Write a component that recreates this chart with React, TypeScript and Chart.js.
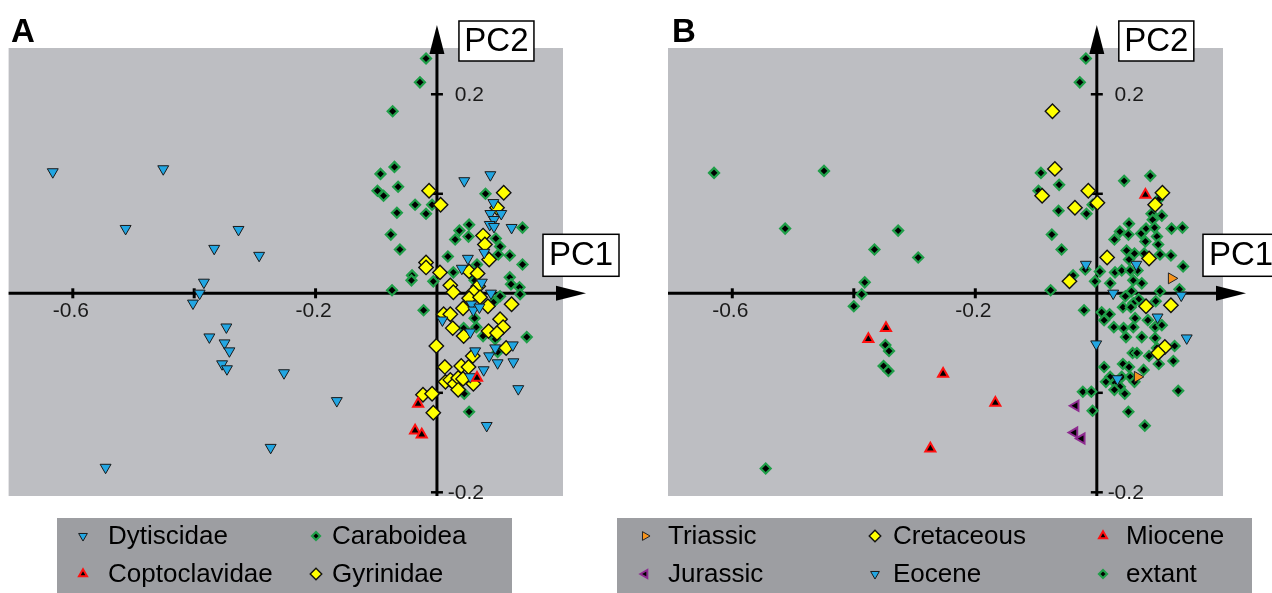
import React, { useEffect, useRef } from 'react';
import { Chart, registerables } from 'chart.js';
import { drawPoint } from 'chart.js/helpers';

Chart.register(...registerables);

type P = [number, number];

// ---------- Panel A data (PC1, PC2) ----------
const dytiscidae: P[] = [
  [-0.633, 0.122], [-0.451, 0.125], [-0.513, 0.065], [-0.327, 0.064], [-0.367, 0.045],
  [-0.293, 0.038], [-0.384, 0.011], [-0.391, 0.0], [-0.402, -0.01], [-0.347, -0.034],
  [-0.375, -0.044], [-0.35, -0.05], [-0.342, -0.058], [-0.354, -0.071], [-0.346, -0.076],
  [-0.252, -0.08], [-0.165, -0.108], [-0.274, -0.155], [-0.546, -0.175],
  [0.045, 0.113], [0.088, 0.119], [0.093, 0.091], [0.088, 0.08], [0.106, 0.08],
  [0.094, 0.074], [0.087, 0.069], [0.094, 0.067], [0.123, 0.066], [0.051, 0.035],
  [0.078, 0.041], [0.041, 0.025], [0.074, 0.011], [0.089, 0.0], [0.057, -0.011],
  [0.06, -0.017], [0.07, -0.014], [0.009, -0.027], [0.055, -0.039], [0.125, -0.052],
  [0.096, -0.055], [0.063, -0.058], [0.086, -0.063], [0.1, -0.07], [0.126, -0.069],
  [0.077, -0.077], [0.055, -0.084], [0.134, -0.096], [0.082, -0.133],
];
const coptoclavidae: P[] = [
  [0.066, -0.085], [-0.031, -0.111], [-0.036, -0.138], [-0.025, -0.142],
];
const caraboidea: P[] = [
  [-0.018, 0.236], [-0.028, 0.212], [-0.073, 0.183], [-0.07, 0.127], [-0.093, 0.12],
  [-0.064, 0.107], [-0.098, 0.103], [-0.088, 0.098], [-0.036, 0.089], [-0.008, 0.089],
  [-0.066, 0.081], [-0.018, 0.08], [-0.076, 0.059], [0.08, 0.1], [0.141, 0.066],
  [0.053, 0.069], [0.037, 0.063], [0.052, 0.057], [0.03, 0.054], [0.097, 0.055],
  [-0.061, 0.044], [0.018, 0.037], [0.104, 0.047], [0.101, 0.039], [0.12, 0.038],
  [0.141, 0.029], [0.066, 0.029], [-0.041, 0.018], [-0.042, 0.013], [-0.006, 0.012],
  [0.027, 0.021], [0.12, 0.016], [0.122, 0.009], [0.136, 0.006], [0.137, -0.001],
  [-0.074, 0.003], [0.062, 0.013], [0.104, -0.003], [0.093, -0.009], [-0.022, -0.017],
  [0.062, -0.025], [0.065, -0.034], [0.099, -0.039], [0.076, -0.043], [0.096, -0.046],
  [0.148, -0.044], [0.044, -0.035], [0.1, -0.059], [0.045, -0.101], [0.053, -0.119],
];
const gyrinidae: P[] = [
  [-0.013, 0.103], [0.006, 0.089], [0.11, 0.101], [0.099, 0.086], [0.076, 0.058],
  [0.079, 0.049], [0.086, 0.034], [-0.018, 0.031], [-0.018, 0.026], [0.005, 0.021],
  [0.053, 0.022], [0.067, 0.02], [0.022, 0.008], [0.027, 0.001], [0.068, 0.007],
  [0.06, 0.001], [0.053, -0.005], [0.071, -0.004], [0.123, -0.011], [0.084, -0.013],
  [0.043, -0.015], [0.011, -0.021], [0.022, -0.021], [0.104, -0.026], [0.109, -0.034],
  [0.085, -0.038], [0.099, -0.04], [0.026, -0.035], [0.044, -0.043], [-0.001, -0.053],
  [0.114, -0.055], [0.059, -0.063], [0.013, -0.074], [0.04, -0.073], [0.052, -0.074],
  [0.014, -0.089], [0.022, -0.087], [0.029, -0.091], [0.035, -0.085], [0.043, -0.086],
  [0.035, -0.097], [0.06, -0.091], [-0.023, -0.102], [-0.008, -0.101], [-0.006, -0.12],
];

// ---------- Panel B data (PC1, PC2) ----------
const triassic: P[] = [[0.123, 0.015], [0.067, -0.084]];
const jurassic: P[] = [[-0.035, -0.113], [-0.037, -0.14], [-0.025, -0.146]];
const cretaceous: P[] = [
  [-0.069, 0.125], [-0.09, 0.098], [-0.014, 0.103], [-0.036, 0.086], [0.001, 0.091],
  [-0.045, 0.012], [-0.073, 0.183], [0.108, 0.101], [0.096, 0.089], [0.017, 0.036],
  [0.086, 0.035], [0.081, -0.013], [0.122, -0.012], [0.112, -0.054], [0.101, -0.06],
];
const eocene: P[] = [
  [-0.018, 0.029], [-0.001, -0.051], [0.065, 0.029], [0.027, 0.0], [0.139, -0.002],
  [0.1, -0.024], [0.148, -0.045], [0.034, -0.086],
];
const miocene: P[] = [
  [-0.347, -0.035], [-0.376, -0.046], [-0.253, -0.081], [-0.167, -0.11], [-0.274, -0.156],
  [0.08, 0.099],
];
const extant: P[] = [
  [-0.63, 0.121], [-0.449, 0.123], [-0.513, 0.065], [-0.327, 0.063], [-0.366, 0.044],
  [-0.294, 0.036], [-0.382, 0.011], [-0.387, -0.001], [-0.4, -0.013], [-0.348, -0.052],
  [-0.342, -0.058], [-0.351, -0.073], [-0.343, -0.078], [-0.545, -0.176],
  [-0.092, 0.121], [-0.062, 0.109], [-0.096, 0.103], [-0.063, 0.083], [-0.017, 0.08],
  [-0.007, 0.089], [-0.074, 0.059], [-0.058, 0.044], [-0.039, 0.018], [-0.019, 0.024],
  [-0.003, 0.012], [-0.076, 0.003], [-0.021, -0.017], [-0.023, -0.099], [-0.009, -0.099],
  [-0.007, -0.118], [-0.018, 0.236], [-0.028, 0.212], [0.045, 0.113], [0.088, 0.118],
  [0.101, 0.094], [0.09, 0.08], [0.107, 0.078], [0.092, 0.074], [0.053, 0.07],
  [0.038, 0.062], [0.052, 0.059], [0.073, 0.06], [0.081, 0.065], [0.095, 0.066],
  [0.123, 0.065], [0.141, 0.066], [0.005, 0.022], [0.029, 0.054], [0.08, 0.052],
  [0.099, 0.057], [0.101, 0.049], [0.049, 0.043], [0.062, 0.04], [0.078, 0.04],
  [0.104, 0.039], [0.122, 0.038], [0.142, 0.027], [0.053, 0.034], [0.067, 0.023],
  [0.03, 0.021], [0.041, 0.023], [0.055, 0.023], [0.06, 0.013], [0.074, 0.01],
  [0.022, 0.01], [0.104, 0.002], [0.136, 0.004], [0.057, 0.002], [0.047, -0.003],
  [0.069, -0.006], [0.097, -0.008], [0.06, -0.01], [0.043, -0.014], [0.056, -0.014],
  [0.008, -0.019], [0.021, -0.021], [0.063, -0.025], [0.012, -0.027], [0.084, -0.027],
  [0.028, -0.034], [0.044, -0.035], [0.06, -0.034], [0.096, -0.034], [0.107, -0.032],
  [0.048, -0.044], [0.074, -0.044], [0.096, -0.045], [0.128, -0.053], [0.099, -0.055],
  [0.059, -0.06], [0.066, -0.06], [0.086, -0.063], [0.126, -0.068], [0.102, -0.071],
  [0.043, -0.071], [0.053, -0.074], [0.012, -0.074], [0.077, -0.077], [0.022, -0.084],
  [0.041, -0.084], [0.055, -0.084], [0.015, -0.089], [0.03, -0.09], [0.038, -0.094],
  [0.062, -0.089], [0.029, -0.097], [0.046, -0.101], [0.134, -0.098], [0.052, -0.119],
  [0.079, -0.133],
];

// ---------- axes ----------
const X_MIN = -0.7058;
const X_MAX = 0.2077;
const Y_MIN = -0.2037;
const Y_MAX = 0.2465;
const xTickValues = [-0.6, -0.4, -0.2];
const xTickLabels = ['-0.6', '', '-0.2'];
const yTickValues = [0.2, 0.1, -0.1, -0.2];
const yTickLabels = ['0.2', '', '', '-0.2'];
const axisTitleX = 'PC1';
const axisTitleY = 'PC2';

const FONT = "'Liberation Sans', Arial, Helvetica, sans-serif";
const PLOT_BG = '#bdbec2';
const LEGEND_BG = '#9d9ea2';

type Sty = {
  pointStyle: string; rotation: number; radius: number;
  fill: string; stroke: string; borderWidth: number;
};
const S: Record<string, Sty> = {
  blueDown: { pointStyle: 'triangle', rotation: 180, radius: 6.3, fill: '#22a6e2', stroke: '#1a1a1a', borderWidth: 1 },
  redUp: { pointStyle: 'triangle', rotation: 0, radius: 5.8, fill: '#000000', stroke: '#ff1010', borderWidth: 2 },
  greenDiamond: { pointStyle: 'rectRot', radius: 5, rotation: 0, fill: '#000000', stroke: '#1f9e48', borderWidth: 2.2 },
  yellowDiamond: { pointStyle: 'rectRot', radius: 7.2, rotation: 0, fill: '#ffff00', stroke: '#111111', borderWidth: 1.4 },
  orangeRight: { pointStyle: 'triangle', rotation: 90, radius: 6.3, fill: '#f7941d', stroke: '#222222', borderWidth: 1 },
  purpleLeft: { pointStyle: 'triangle', rotation: 270, radius: 5.8, fill: '#000000', stroke: '#8e2a90', borderWidth: 2 },
};

type Series = { label: string; data: P[]; style: Sty };
type LegendItem = { label: string; style: Sty; mx: number; tx: number; y: number };
type Panel = {
  left: number; width: number; padLeft: number; padRight: number;
  letter: string; letterX: number;
  series: Series[]; // first = topmost
  legendBox: [number, number, number, number];
  legend: LegendItem[];
};

const panels: Panel[] = [
  {
    left: 0, width: 640, padLeft: 8, padRight: 640 - 563,
    letter: 'A', letterX: 11,
    series: [
      { label: 'Coptoclavidae', data: coptoclavidae, style: S.redUp },
      { label: 'Dytiscidae', data: dytiscidae, style: S.blueDown },
      { label: 'Gyrinidae', data: gyrinidae, style: S.yellowDiamond },
      { label: 'Caraboidea', data: caraboidea, style: S.greenDiamond },
    ],
    legendBox: [57, 518, 512, 600],
    legend: [
      { label: 'Dytiscidae', style: S.blueDown, mx: 83, tx: 108, y: 536 },
      { label: 'Caraboidea', style: S.greenDiamond, mx: 316, tx: 332, y: 536 },
      { label: 'Coptoclavidae', style: S.redUp, mx: 83, tx: 108, y: 574 },
      { label: 'Gyrinidae', style: S.yellowDiamond, mx: 316, tx: 332, y: 574 },
    ],
  },
  {
    left: 612, width: 660, padLeft: 668 - 612, padRight: 1272 - 1223,
    letter: 'B', letterX: 672,
    series: [
      { label: 'Jurassic', data: jurassic, style: S.purpleLeft },
      { label: 'Miocene', data: miocene, style: S.redUp },
      { label: 'Triassic', data: triassic, style: S.orangeRight },
      { label: 'Eocene', data: eocene, style: S.blueDown },
      { label: 'Cretaceous', data: cretaceous, style: S.yellowDiamond },
      { label: 'extant', data: extant, style: S.greenDiamond },
    ],
    legendBox: [617, 518, 1252, 600],
    legend: [
      { label: 'Triassic', style: S.orangeRight, mx: 645, tx: 668, y: 536 },
      { label: 'Cretaceous', style: S.yellowDiamond, mx: 875, tx: 893, y: 536 },
      { label: 'Miocene', style: S.redUp, mx: 1103, tx: 1126, y: 536 },
      { label: 'Jurassic', style: S.purpleLeft, mx: 645, tx: 668, y: 574 },
      { label: 'Eocene', style: S.blueDown, mx: 875, tx: 893, y: 574 },
      { label: 'extant', style: S.greenDiamond, mx: 1103, tx: 1126, y: 574 },
    ],
  },
];

function marker(ctx: CanvasRenderingContext2D, st: Sty, x: number, y: number, scale = 1) {
  ctx.save();
  ctx.fillStyle = st.fill;
  ctx.strokeStyle = st.stroke;
  ctx.lineWidth = st.borderWidth;
  drawPoint(ctx, { pointStyle: st.pointStyle as any, rotation: st.rotation, radius: st.radius * scale, borderWidth: st.borderWidth }, x, y);
  ctx.restore();
}

function makePlugin(panel: Panel) {
  return {
    id: 'pcaOverlay',
    beforeDraw(chart: any) {
      const ctx: CanvasRenderingContext2D = chart.ctx;
      const a = chart.chartArea;
      ctx.save();
      ctx.fillStyle = PLOT_BG;
      ctx.fillRect(a.left, a.top, a.right - a.left, a.bottom - a.top);
      const [l, t, r, b] = panel.legendBox;
      ctx.fillStyle = LEGEND_BG;
      ctx.fillRect(l - panel.left, t, r - l, b - t);
      ctx.restore();
    },
    beforeDatasetsDraw(chart: any) {
      const ctx: CanvasRenderingContext2D = chart.ctx;
      const a = chart.chartArea;
      const xs = chart.scales.x;
      const ys = chart.scales.y;
      const x0 = xs.getPixelForValue(0);
      const y0 = ys.getPixelForValue(0);
      ctx.save();
      ctx.strokeStyle = '#000';
      ctx.fillStyle = '#000';
      ctx.lineWidth = 3;
      // horizontal axis
      const hTip = a.right + 23;
      ctx.beginPath();
      ctx.moveTo(a.left, y0);
      ctx.lineTo(a.right - 5, y0);
      ctx.stroke();
      ctx.beginPath();
      ctx.moveTo(hTip, y0);
      ctx.lineTo(a.right - 7, y0 - 7.5);
      ctx.lineTo(a.right - 7, y0 + 7.5);
      ctx.closePath();
      ctx.fill();
      // vertical axis
      const vTip = a.top - 23;
      ctx.beginPath();
      ctx.moveTo(x0, a.bottom);
      ctx.lineTo(x0, a.top + 5);
      ctx.stroke();
      ctx.beginPath();
      ctx.moveTo(x0, vTip);
      ctx.lineTo(x0 - 7.5, a.top + 6);
      ctx.lineTo(x0 + 7.5, a.top + 6);
      ctx.closePath();
      ctx.fill();
      // ticks
      ctx.lineWidth = 3;
      xTickValues.forEach((v) => {
        const px = xs.getPixelForValue(v);
        ctx.beginPath();
        ctx.moveTo(px, y0 - 5);
        ctx.lineTo(px, y0 + 5);
        ctx.stroke();
      });
      ctx.lineWidth = 2.5;
      yTickValues.forEach((v) => {
        const py = ys.getPixelForValue(v);
        ctx.beginPath();
        ctx.moveTo(x0 - 6, py);
        ctx.lineTo(x0 + 6, py);
        ctx.stroke();
      });
      ctx.restore();
    },
    afterDraw(chart: any) {
      const ctx: CanvasRenderingContext2D = chart.ctx;
      const a = chart.chartArea;
      const xs = chart.scales.x;
      const ys = chart.scales.y;
      const x0 = xs.getPixelForValue(0);
      const y0 = ys.getPixelForValue(0);
      ctx.save();
      // tick labels
      ctx.fillStyle = '#1a1a1a';
      ctx.font = `21px ${FONT}`;
      ctx.textBaseline = 'middle';
      ctx.textAlign = 'center';
      xTickValues.forEach((v, i) => {
        if (!xTickLabels[i]) return;
        ctx.fillText(xTickLabels[i], xs.getPixelForValue(v) - 2, y0 + 18);
      });
      ctx.textAlign = 'right';
      yTickValues.forEach((v, i) => {
        if (!yTickLabels[i]) return;
        ctx.fillText(yTickLabels[i], x0 + 47, ys.getPixelForValue(v) + 1);
      });
      // axis title boxes
      const box = (text: string, l: number, t: number, w: number, h: number) => {
        ctx.fillStyle = '#ffffff';
        ctx.fillRect(l, t, w, h);
        ctx.strokeStyle = '#000';
        ctx.lineWidth = 1.5;
        ctx.strokeRect(l, t, w, h);
        ctx.fillStyle = '#000';
        ctx.font = `33px ${FONT}`;
        ctx.textAlign = 'center';
        ctx.textBaseline = 'middle';
        ctx.fillText(text, l + w / 2, t + h / 2 + 1);
      };
      box(axisTitleY, x0 + 22, a.top - 27, 75, 40);
      box(axisTitleX, a.right - 20, y0 - 59, 76, 42);
      // panel letter
      ctx.fillStyle = '#000';
      ctx.font = `bold 33px ${FONT}`;
      ctx.textAlign = 'left';
      ctx.textBaseline = 'alphabetic';
      ctx.fillText(panel.letter, panel.letterX - panel.left, 42);
      // legend
      ctx.font = `26px ${FONT}`;
      ctx.textBaseline = 'middle';
      panel.legend.forEach((it) => {
        marker(ctx, it.style, it.mx - panel.left, it.y, 0.8);
        ctx.fillStyle = '#000';
        ctx.textAlign = 'left';
        ctx.fillText(it.label, it.tx - panel.left, it.y + 1);
      });
      ctx.restore();
    },
  };
}

function PanelChart({ panel }: { panel: Panel }) {
  const ref = useRef<HTMLCanvasElement>(null);
  useEffect(() => {
    if (!ref.current) return;
    const chart = new Chart(ref.current, {
      type: 'scatter',
      data: {
        datasets: panel.series.map((s) => ({
          label: s.label,
          data: s.data.map(([x, y]) => ({ x, y })),
          pointStyle: s.style.pointStyle as any,
          pointRotation: s.style.rotation,
          pointRadius: s.style.radius,
          pointHoverRadius: s.style.radius,
          pointBackgroundColor: s.style.fill,
          pointBorderColor: s.style.stroke,
          pointBorderWidth: s.style.borderWidth,
          pointHoverBorderWidth: s.style.borderWidth,
          showLine: false,
        })),
      },
      options: {
        animation: false,
        responsive: false,
        devicePixelRatio: 1,
        events: [],
        layout: { padding: { left: panel.padLeft, right: panel.padRight, top: 48, bottom: 593 - 496 } },
        plugins: { legend: { display: false }, tooltip: { enabled: false }, title: { display: false } },
        scales: {
          x: { type: 'linear', min: X_MIN, max: X_MAX, display: false },
          y: { type: 'linear', min: Y_MIN, max: Y_MAX, display: false },
        },
      },
      plugins: [makePlugin(panel) as any],
    });
    return () => chart.destroy();
  }, [panel]);
  return (
    <canvas
      ref={ref}
      width={panel.width}
      height={593}
      style={{ position: 'absolute', left: panel.left, top: 0, width: panel.width, height: 593 }}
    />
  );
}

export default function App() {
  return (
    <div style={{ position: 'fixed', left: 0, top: 0, width: 1272, height: 593, background: '#ffffff', overflow: 'hidden' }}>
      {panels.map((p) => (
        <PanelChart key={p.letter} panel={p} />
      ))}
    </div>
  );
}
